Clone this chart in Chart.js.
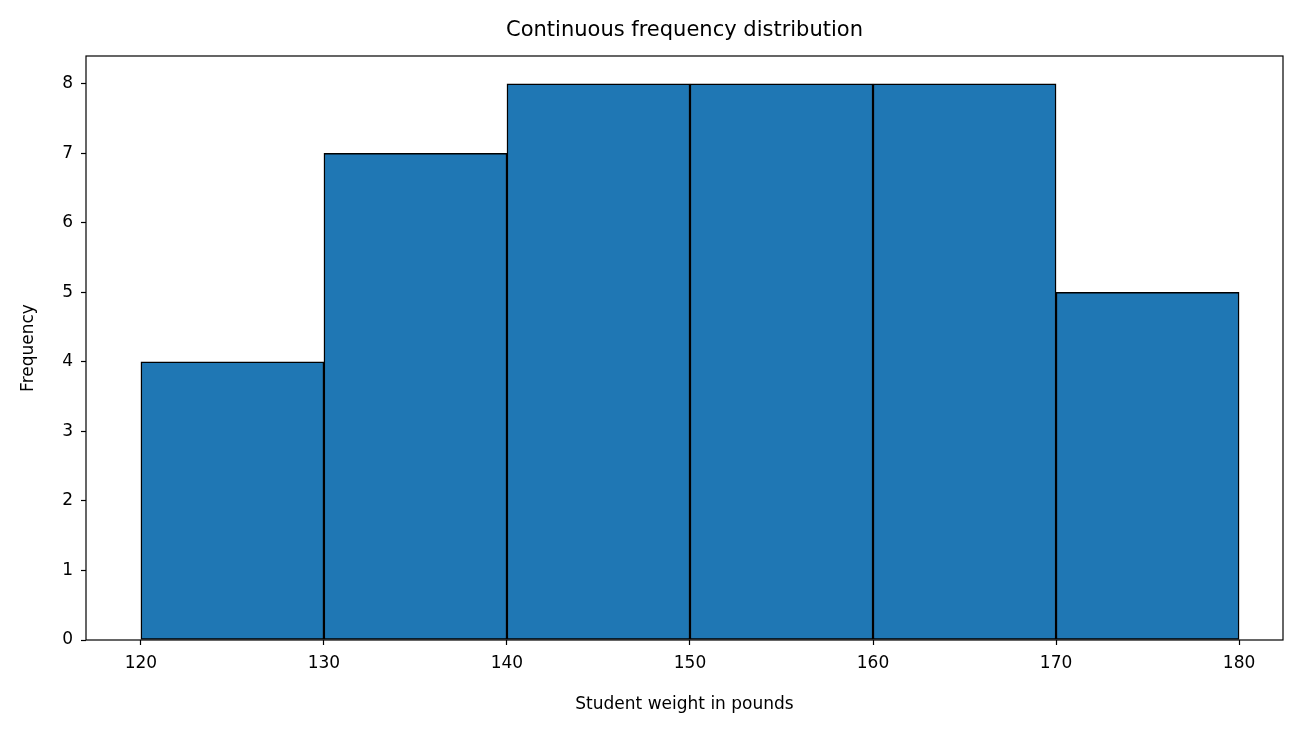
<!DOCTYPE html>
<html>
<head>
<meta charset="utf-8">
<script src="https://cdn.jsdelivr.net/npm/chart.js@4/dist/chart.umd.min.js"></script>
<style>
  html, body { margin: 0; padding: 0; background: #fff; }
  #wrap { width: 1312px; height: 733px; }
</style>
</head>
<body>
<div id="wrap"><canvas id="c"></canvas></div>
<script>
// Bins of student weight (centres), width 10 lbs
const binCentres = [125, 135, 145, 155, 165, 175];
const frequencies = [4, 7, 8, 8, 8, 5];
const xTicks = [120, 130, 140, 150, 160, 170, 180];
const yTicks = [0, 1, 2, 3, 4, 5, 6, 7, 8];

const font = 'DejaVu Sans';

// Frame around the plot area plus the chart title
const framePlugin = {
    id: 'frame',
    afterDraw(chart) {
        const { ctx, chartArea: a } = chart;
        ctx.save();
        ctx.strokeStyle = '#000';
        ctx.lineWidth = 1.2;
        ctx.strokeRect(a.left, a.top, a.right - a.left, a.bottom - a.top);
        ctx.fillStyle = '#000';
        ctx.font = '21px ' + font;
        ctx.textAlign = 'center';
        ctx.textBaseline = 'middle';
        ctx.fillText('Continuous frequency distribution', (a.left + a.right) / 2, 31);
        ctx.restore();
    }
};

new Chart(document.getElementById('c'), {
    type: 'bar',
    data: {
        datasets: [{
            data: binCentres.map((x, i) => ({ x, y: frequencies[i] })),
            backgroundColor: '#1f77b4',
            borderColor: '#000',
            borderWidth: 1.5,
            borderSkipped: false,
            barPercentage: 1,
            categoryPercentage: 1
        }]
    },
    options: {
        responsive: true,
        maintainAspectRatio: false,
        animation: false,
        layout: { padding: { top: 56, right: 29, left: 18, bottom: 18 } },
        plugins: { legend: { display: false }, tooltip: { enabled: false }, title: { display: false } },
        scales: {
            x: {
                type: 'linear',
                offset: false,
                min: 117,
                max: 182.4,
                afterBuildTicks(s) { s.ticks = xTicks.map(v => ({ value: v })); },
                afterFit(s) { s.height = 75; },
                grid: { offset: false, drawOnChartArea: false, color: '#000', tickLength: 5, tickWidth: 1.2 },
                border: { display: false },
                ticks: { color: '#000', font: { family: font, size: 17 }, padding: 8 },
                title: { display: true, text: 'Student weight in pounds', color: '#000', font: { family: font, size: 17 }, padding: 0 }
            },
            y: {
                min: 0,
                max: 8.4,
                afterBuildTicks(s) { s.ticks = yTicks.map(v => ({ value: v })); },
                afterFit(s) { s.width = 68; },
                grid: { drawOnChartArea: false, color: '#000', tickLength: 5, tickWidth: 1.2 },
                border: { display: false },
                ticks: { color: '#000', font: { family: font, size: 17 }, padding: 8 },
                title: { display: true, text: 'Frequency', color: '#000', font: { family: font, size: 17 }, padding: 0 }
            }
        }
    },
    plugins: [framePlugin]
});
</script>
</body>
</html>
